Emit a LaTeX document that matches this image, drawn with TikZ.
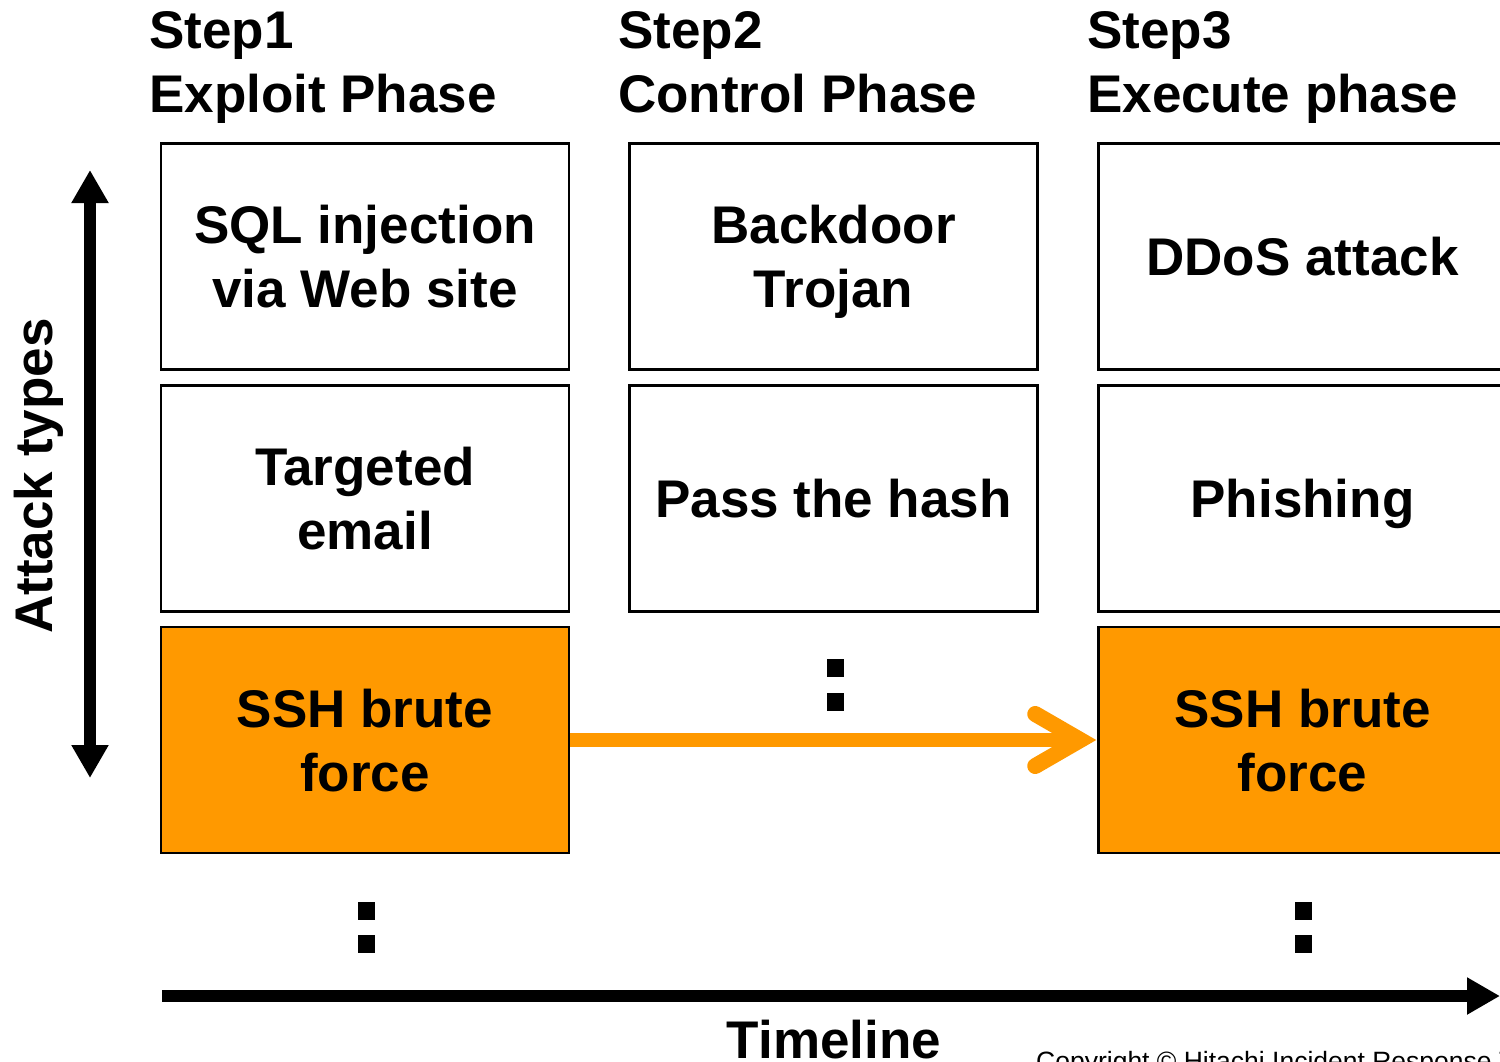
\documentclass[tikz,border=0pt]{standalone}
\usepackage{fontspec}
\setmainfont{Liberation Sans}
\usetikzlibrary{arrows.meta,calc}
\definecolor{orng}{HTML}{FF9900}
\tikzset{
  big/.style={font=\fontsize{53}{64}\selectfont\bfseries},
  box/.style={draw=black,line width=2.5pt,minimum width=408pt,minimum height=226pt,
    align=center,big,text depth=0pt,inner sep=0pt},
  hot/.style={box,fill=orng},
  head/.style={big,anchor=base west,inner sep=0pt},
  dot/.style={fill=black,minimum width=17pt,minimum height=18pt,inner sep=0pt},
  thickarrow/.style={line width=12pt,-{Triangle[length=33pt,width=35pt]}},
  orangeline/.style={draw=orng,line width=14pt},
  chevron/.style={draw=orng,line width=16pt,line cap=round,line join=miter}
}
\begin{document}
\begin{tikzpicture}[x=1pt,y=-1pt]
\useasboundingbox (0,0) rectangle (1500,1061);
\clip (0,0) rectangle (1500,1061);
% headings
\node[head] (s1a) at (149,48) {Step1};
\node[head] (s1b) at (149,112) {Exploit Phase};
\node[head] (s2a) at (618,48) {Step2};
\node[head] (s2b) at (618,112) {Control Phase};
\node[head] (s3a) at (1087,48) {Step3};
\node[head] (s3b) at (1087,112) {Execute phase};
% boxes
\node[box] (b11) at (365,256.5) {SQL injection\\via Web site};
\node[box] (b12) at (365,498.5) {Targeted\\email};
\node[hot] (ssh1) at (365,740) {SSH brute\\force};
\node[box] (b21) at (833.5,256.5) {Backdoor\\Trojan};
\node[box] (b22) at (833.5,498.5) {Pass the hash};
\node[box] (b31) at (1302.5,256.5) {DDoS attack};
\node[box] (b32) at (1302.5,498.5) {Phishing};
\node[hot] (ssh3) at (1302.5,740) {SSH brute\\force};
% orange connector
\draw[orangeline] (ssh1.east) -- ($(ssh3.west)+(-14,0)$);
\draw[chevron] ($(ssh3.west)+(-62,-26)$) -- ($(ssh3.west)+(-17,0)$) -- ($(ssh3.west)+(-62,26)$);
% dots
\node[dot] (m1) at (835,668) {};
\node[dot] (m2) at (835,702) {};
\node[dot] (l1) at (366,911) {};
\node[dot] (l2) at (366,944) {};
\node[dot] (r1) at (1303,911) {};
\node[dot] (r2) at (1303,944) {};
% vertical axis
\coordinate (vmid) at (90,476);
\coordinate (vtop) at (90,170);
\coordinate (vbot) at (90,778);
\draw[thickarrow] (vmid) -- (vtop);
\draw[thickarrow] (vmid) -- (vbot);
\node[big,rotate=90,anchor=base,inner sep=0pt] (at) at (52,476) {Attack types};
% timeline
\coordinate (t0) at (162,996);
\coordinate (t1) at (1500,996);
\draw[thickarrow] (t0) -- (t1);
\node[big,anchor=base,inner sep=0pt] (tl) at (834,1058) {Timeline};
\node[font=\fontsize{26.5}{30}\selectfont,anchor=base west,inner sep=0pt] (cr) at (1036,1070) {Copyright © Hitachi Incident Response Team};
\end{tikzpicture}
\end{document}
